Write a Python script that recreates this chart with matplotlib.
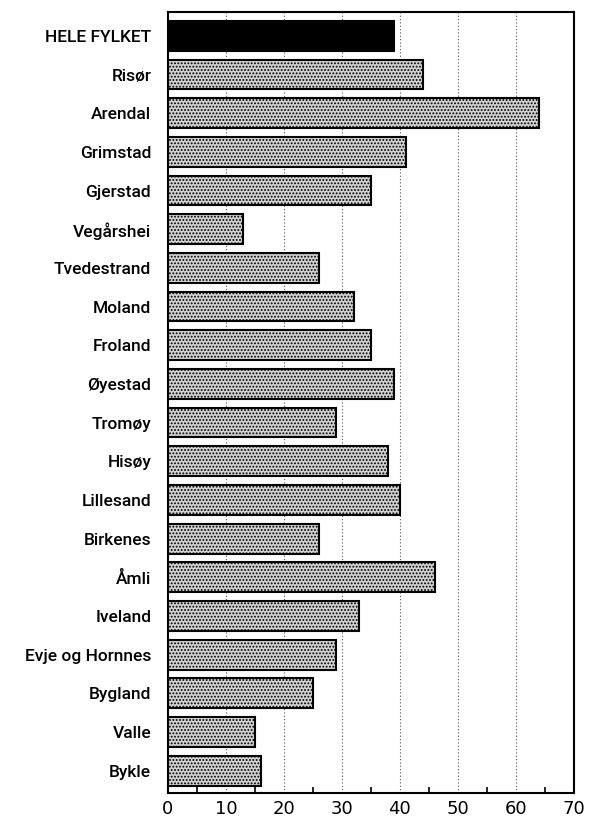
import matplotlib
matplotlib.use('Agg')
import matplotlib.pyplot as plt
import numpy as np

# kommuner i Aust-Agder, verdier lest av figuren
kommuner = ['HELE FYLKET', 'Risør', 'Arendal', 'Grimstad', 'Gjerstad', 'Vegårshei',
            'Tvedestrand', 'Moland', 'Froland', 'Øyestad', 'Tromøy', 'Hisøy',
            'Lillesand', 'Birkenes', 'Åmli', 'Iveland', 'Evje og Hornnes',
            'Bygland', 'Valle', 'Bykle']
verdier = [39, 44, 64, 41, 35, 13, 26, 32, 35, 39, 29, 38, 40, 26, 46, 33, 29, 25, 15, 16]

x_ticks = [0, 10, 20, 30, 40, 50, 60, 70]

plt.rcParams['font.family'] = ['Roboto', 'DejaVu Sans']
plt.rcParams['hatch.linewidth'] = 0.9

fig = plt.figure(figsize=(5.89, 8.21), dpi=100)
ax = fig.add_axes([0.285, 0.034, 0.6895, 0.9515])

y = np.arange(len(kommuner))
for i, (navn, v) in enumerate(zip(kommuner, verdier)):
    if i == 0:
        ax.barh(i, v, height=0.77, color='black', edgecolor='black', linewidth=1.5, zorder=3)
    else:
        ax.barh(i, v, height=0.77, color='#d2d2d2', edgecolor='black', hatch='.....',
                linewidth=1.5, zorder=3)

ax.set_ylim(len(kommuner) - 0.42, -0.62)
ax.set_xlim(0, 70)

ax.set_yticks(y)
ax.set_yticklabels(kommuner, fontsize=12.5, fontweight='medium')
ax.tick_params(axis='y', length=0, pad=12)

ax.set_xticks(x_ticks)
ax.set_xticklabels([str(t) for t in x_ticks], fontsize=13, family=['DejaVu Sans'])
ax.set_xticks(np.arange(5, 70, 10), minor=True)
ax.tick_params(axis='x', which='major', length=0, pad=5)
ax.tick_params(axis='x', which='minor', direction='in', length=4, width=1.2)

for t in range(10, 70, 10):
    ax.axvline(t, color='#555555', linestyle=(0, (1, 2)), linewidth=0.8, zorder=1)

for s in ax.spines.values():
    s.set_linewidth(1.5)

fig.savefig('out.png', dpi=100)
